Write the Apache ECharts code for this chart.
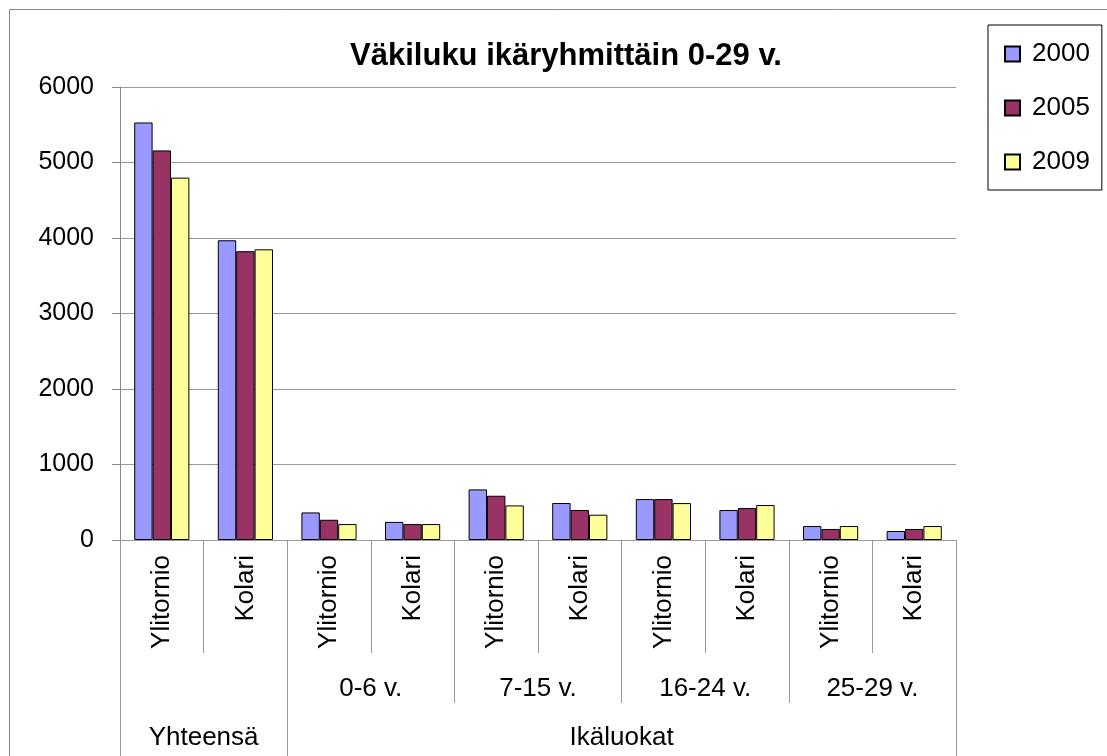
<!DOCTYPE html>
<html>
<head>
<meta charset="utf-8">
<script src="https://cdn.jsdelivr.net/npm/echarts@6/dist/echarts.min.js"></script>
<style>
  html, body { margin: 0; padding: 0; background: #fff; }
  #main { width: 1107px; height: 756px; }
</style>
</head>
<body>
<div id="main"></div>
<script>
// kunnat (alin taso)
const places = ['Ylitornio', 'Kolari', 'Ylitornio', 'Kolari', 'Ylitornio', 'Kolari',
  'Ylitornio', 'Kolari', 'Ylitornio', 'Kolari'];
// ikäluokat (keskitaso)
const ageGroups = ['', '0-6 v.', '7-15 v.', '16-24 v.', '25-29 v.'];
// ylin taso: nimi ja keskikohta kategoriayksiköissä
const topGroups = ['Yhteensä', 'Ikäluokat'];
const topGroupCenters = [1, 6];
const topGroupBounds = [0, 2, 10];

const years = ['2000', '2005', '2009'];
const v2000 = [5530, 3970, 365, 240, 670, 490, 542, 397, 185, 119];
const v2005 = [5160, 3825, 268, 211, 586, 397, 542, 423, 146, 146];
const v2009 = [4800, 3850, 211, 211, 458, 335, 489, 463, 185, 185];
const colors = ['#9999FF', '#993366', '#FFFF99'];

const font = 'Liberation Sans, Arial, sans-serif';
const chart = echarts.init(document.getElementById('main'));

function barSeries(name, data, color) {
  return {
    name: name,
    type: 'bar',
    xAxisIndex: 0,
    data: data,
    barGap: '0%',
    barCategoryGap: '34%',
    itemStyle: { color: color, borderColor: '#000', borderWidth: 1 }
  };
}

chart.setOption({
  animation: false,
  textStyle: { fontFamily: font },
  title: {
    text: 'Väkiluku ikäryhmittäin 0-29 v.',
    left: 561,
    top: 36,
    textAlign: 'center',
    textStyle: { fontSize: 31, fontWeight: 'bold', color: '#000', fontFamily: font }
  },
  legend: {
    orient: 'vertical',
    left: 988,
    top: 25,
    padding: [16, 12, 15, 16],
    itemGap: 28,
    itemWidth: 15,
    itemHeight: 15,
    icon: 'rect',
    borderColor: '#000',
    borderWidth: 1,
    textStyle: { fontSize: 26, lineHeight: 26, color: '#000', padding: [0, 0, 0, 7], fontFamily: font },
    data: years
  },
  graphic: [{
    type: 'rect',
    shape: { x: 9.5, y: 9.5, width: 1200, height: 900 },
    style: { fill: 'none', stroke: '#888', lineWidth: 1 },
    silent: true
  }],
  grid: { left: 120, right: 151, top: 87, bottom: 216, containLabel: false, outerBoundsMode: 'none' },
  xAxis: [
    {
      type: 'category',
      data: places,
      position: 'bottom',
      axisLine: { lineStyle: { color: '#999' } },
      axisTick: { show: true, interval: 0, length: 113, lineStyle: { color: '#999' } },
      axisLabel: { interval: 0, rotate: 90, margin: 15, fontSize: 26, color: '#000', fontFamily: font }
    },
    {
      type: 'category',
      data: ageGroups,
      position: 'bottom',
      axisLine: { show: false },
      axisTick: { show: true, interval: 0, length: 163, lineStyle: { color: '#999' } },
      axisLabel: { interval: 0, margin: 136, fontSize: 26, color: '#000', fontFamily: font }
    },
    {
      type: 'value',
      min: 0,
      max: 10,
      position: 'bottom',
      axisLine: { show: false },
      splitLine: { show: false },
      axisTick: { show: true, customValues: topGroupBounds, length: 216, lineStyle: { color: '#999' } },
      axisLabel: {
        customValues: topGroupCenters,
        margin: 185,
        fontSize: 26,
        color: '#000',
        fontFamily: font,
        formatter: function (v) {
          const i = topGroupCenters.indexOf(v);
          return i >= 0 ? topGroups[i] : '';
        }
      }
    }
  ],
  yAxis: {
    type: 'value',
    min: 0,
    max: 6000,
    interval: 1000,
    axisLine: { show: true, lineStyle: { color: '#888' } },
    axisTick: { show: true, length: 8, lineStyle: { color: '#888' } },
    axisLabel: {
      margin: 26,
      fontSize: 25,
      color: '#000',
      fontFamily: font,
      formatter: function (v) { return String(v); }
    },
    splitLine: { lineStyle: { color: '#999' } }
  },
  series: [
    barSeries(years[0], v2000, colors[0]),
    barSeries(years[1], v2005, colors[1]),
    barSeries(years[2], v2009, colors[2])
  ]
});
</script>
</body>
</html>
